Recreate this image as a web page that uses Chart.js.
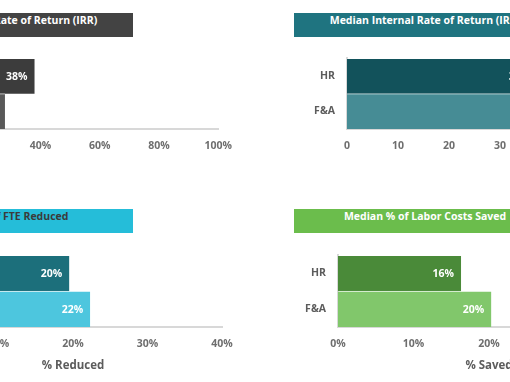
<!DOCTYPE html>
<html><head><meta charset="utf-8">
<script src="https://cdn.jsdelivr.net/npm/chart.js@4.4.1/dist/chart.umd.min.js"></script>
<style>
html,body{margin:0;padding:0;background:#fff;}
body{width:510px;height:382px;overflow:hidden;position:relative;}
.box{position:absolute;width:262px;height:24px;line-height:24px;text-align:center;font:700 10.5px "Open Sans", sans-serif;white-space:nowrap;}
.cw{position:absolute;}
</style></head><body>
<div id="t1" class="box" style="left:-129px;top:13px;background:#434343;color:#fff;"></div>
<div id="t2" class="box" style="left:294px;top:13px;background:#1f7480;color:#fff;"></div>
<div id="t3" class="box" style="left:-129px;top:209px;background:#25bdd9;color:#3b3b3b;"></div>
<div id="t4" class="box" style="left:294px;top:209px;background:#6bbd4c;color:#fff;"></div>
<div id="c1" class="cw"></div>
<div id="c2" class="cw"></div>
<div id="c3" class="cw"></div>
<div id="c4" class="cw"></div>
<script>
// ---- data ----
const categories = ['HR', 'F&A'];
const irrLeftValues = [38, 28];
const irrRightValues = [37.3, 44];
const fteReducedValues = [19.5, 22.3];
const laborSavedValues = [16.3, 20.3];
const titleIrr = 'Median Internal Rate of Return (IRR)';
const titleFte = 'Median % of FTE Reduced';
const titleLabor = 'Median % of Labor Costs Saved';
const xTitleFte = '% Reduced';
const xTitleLabor = '% Saved';
const irrLeftTicks = { max: 100, step: 20 };
const irrRightTicks = { max: 60, step: 10 };
const fteTicks = { max: 40, step: 10 };
const laborTicks = { max: 40, step: 10 };

document.getElementById('t1').textContent = titleIrr;
document.getElementById('t2').textContent = titleIrr;
document.getElementById('t3').textContent = titleFte;
document.getElementById('t4').textContent = titleLabor;

const FONT = '"Open Sans", sans-serif';
const pct = v => Math.round(v) + '%';
const num = v => String(v);

function makeChart(id, o) {
  const YW = 60, PT = 10, PR = 24;
  const w = YW + (o.area.r - o.area.l) + PR;
  const h = PT + (o.area.b - o.area.t) + o.xh;
  const wrap = document.getElementById(id);
  wrap.style.left = (o.area.l - YW) + 'px';
  wrap.style.top = (o.area.t - PT) + 'px';
  const canvas = document.createElement('canvas');
  canvas.width = w; canvas.height = h;
  canvas.style.width = w + 'px'; canvas.style.height = h + 'px';
  wrap.appendChild(canvas);
  const labelPlugin = {
    id: 'valueLabels' + id,
    afterDatasetsDraw(chart) {
      const ctx = chart.ctx;
      const meta = chart.getDatasetMeta(0);
      const data = chart.data.datasets[0].data;
      ctx.save();
      ctx.font = '700 10.5px ' + FONT;
      ctx.fillStyle = '#ffffff';
      ctx.textAlign = 'right';
      ctx.textBaseline = 'middle';
      meta.data.forEach((bar, i) => {
        ctx.fillText(o.valFmt(data[i]), bar.x - 7, bar.y + 1);
      });
      ctx.restore();
    }
  };
  new Chart(canvas, {
    type: 'bar',
    data: {
      labels: categories,
      datasets: [{
        data: o.values,
        backgroundColor: o.colors,
        borderColor: 'rgba(255,255,255,0.35)',
        borderWidth: { top: 1, bottom: 0, left: 0, right: 0 },
        borderSkipped: false,
        categoryPercentage: 1,
        barPercentage: 1
      }]
    },
    options: {
      indexAxis: 'y',
      responsive: false,
      animation: false,
      devicePixelRatio: 1,
      layout: { padding: { top: PT, right: PR, left: 0, bottom: 0 } },
      plugins: { legend: { display: false }, tooltip: { enabled: false }, title: { display: false } },
      scales: {
        x: {
          min: 0, max: o.ticks.max,
          grid: { display: false, drawTicks: false },
          border: { display: true, color: '#d8d8d8', width: 2 },
          ticks: { stepSize: o.ticks.step, callback: v => o.tickFmt(v), color: '#6e6e6e',
                   font: { family: FONT, weight: '700', size: 10.5 }, padding: 11, maxRotation: 0, autoSkip: false },
          title: { display: !!o.xTitle, text: o.xTitle || '', color: '#5c5c5c',
                   font: { family: FONT, weight: '700', size: 11.5 }, padding: { top: 0, bottom: 9 } },
          afterFit: s => { s.height = o.xh; }
        },
        y: {
          grid: { display: false, drawTicks: false },
          border: { display: true, color: '#d8d8d8', width: 2 },
          ticks: { color: '#5c5c5c', font: { family: FONT, weight: '700', size: 10.5 }, padding: 12 },
          afterFit: s => { s.width = YW; }
        }
      }
    },
    plugins: [labelPlugin]
  });
}

function drawAll() {
  makeChart('c1', { values: irrLeftValues, colors: ['#3c3c3c', '#595959'], ticks: irrLeftTicks,
    tickFmt: v => v + '%', valFmt: pct, area: { l: -78.3, r: 218.7, t: 50, b: 129 }, xh: 30 });
  makeChart('c2', { values: irrRightValues, colors: ['#12525b', '#468c95'], ticks: irrRightTicks,
    tickFmt: num, valFmt: pct, area: { l: 346.7, r: 653.3, t: 50, b: 129 }, xh: 30 });
  makeChart('c3', { values: fteReducedValues, colors: ['#1c6f7b', '#4dc6de'], ticks: fteTicks,
    tickFmt: v => v + '%', valFmt: pct, xTitle: xTitleFte, area: { l: -76.5, r: 222, t: 247, b: 327 }, xh: 55 });
  makeChart('c4', { values: laborSavedValues, colors: ['#4a8a39', '#81c76b'], ticks: laborTicks,
    tickFmt: v => v + '%', valFmt: pct, xTitle: xTitleLabor, area: { l: 338, r: 640, t: 247, b: 327 }, xh: 55 });
}

if (document.fonts && document.fonts.load) {
  Promise.all([document.fonts.load('700 10.5px "Open Sans"'), document.fonts.load('700 11.5px "Open Sans"')])
    .then(drawAll, drawAll);
} else { drawAll(); }
</script>
</body></html>
